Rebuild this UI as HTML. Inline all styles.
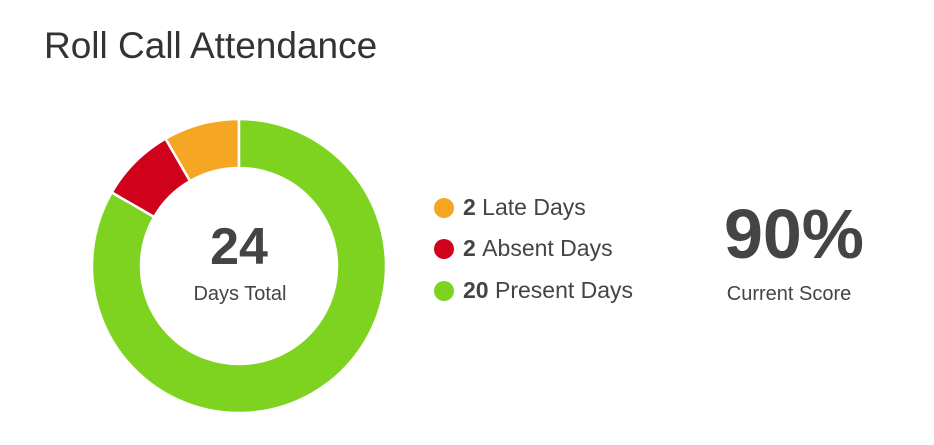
<!DOCTYPE html>
<html><head><meta charset="utf-8"><style>
body{margin:0;width:934px;height:445px;background:#fff;font-family:"Liberation Sans",sans-serif;color:#444;overflow:hidden;position:relative}
.t{position:absolute;left:44px;top:25px;font-size:37px;color:#333}
.leg{position:absolute;left:434px;font-size:23px;color:#444;display:flex;align-items:center}
.dot{width:20px;height:20px;border-radius:50%;margin-right:9px}
</style></head><body>
<div class="t">Roll Call Attendance</div>
<svg id="c" width="934" height="445" style="position:absolute;left:0;top:0">
<text x="239" y="264" text-anchor="middle" font-size="52" font-weight="bold" fill="#444" font-family="Liberation Sans">24</text>
<text x="240" y="300" text-anchor="middle" font-size="20" fill="#444" font-family="Liberation Sans">Days Total</text>
<text x="794" y="258" text-anchor="middle" font-size="70" font-weight="bold" fill="#444" font-family="Liberation Sans">90%</text>
<text x="789" y="300" text-anchor="middle" font-size="20" fill="#444" font-family="Liberation Sans">Current Score</text>
</svg>
<div class="leg" style="top:194px"><span class="dot" style="background:#f5a623"></span><b>2</b>&nbsp;Late Days</div>
<div class="leg" style="top:235px"><span class="dot" style="background:#d0021b"></span><b>2</b>&nbsp;Absent Days</div>
<div class="leg" style="top:277px"><span class="dot" style="background:#7ed321"></span><b>20</b>&nbsp;Present Days</div>
<script>
const categories=["Present","Absent","Late"];
const values=[20,2,2];
const colors=["#7ed321","#d0021b","#f5a623"];
const svg=document.getElementById('c');
const cx=239,cy=266,R=147,r=98;
const total=values.reduce((a,b)=>a+b,0);
function pt(a,rad){return [cx+rad*Math.sin(a),cy-rad*Math.cos(a)];}
let a0=0;
values.forEach((v,i)=>{
  const a1=a0+v/total*2*Math.PI;
  const large=(a1-a0)>Math.PI?1:0;
  const p1=pt(a0,R),p2=pt(a1,R),p3=pt(a1,r),p4=pt(a0,r);
  const p=document.createElementNS('http://www.w3.org/2000/svg','path');
  p.setAttribute('d',`M${p1} A${R},${R} 0 ${large} 1 ${p2} L${p3} A${r},${r} 0 ${large} 0 ${p4} Z`);
  p.setAttribute('fill',colors[i]);
  p.setAttribute('stroke','#fff');
  p.setAttribute('stroke-width','2.5');
  
  
  svg.insertBefore(p,svg.firstChild);
  a0=a1;
});
</script>
</body></html>
